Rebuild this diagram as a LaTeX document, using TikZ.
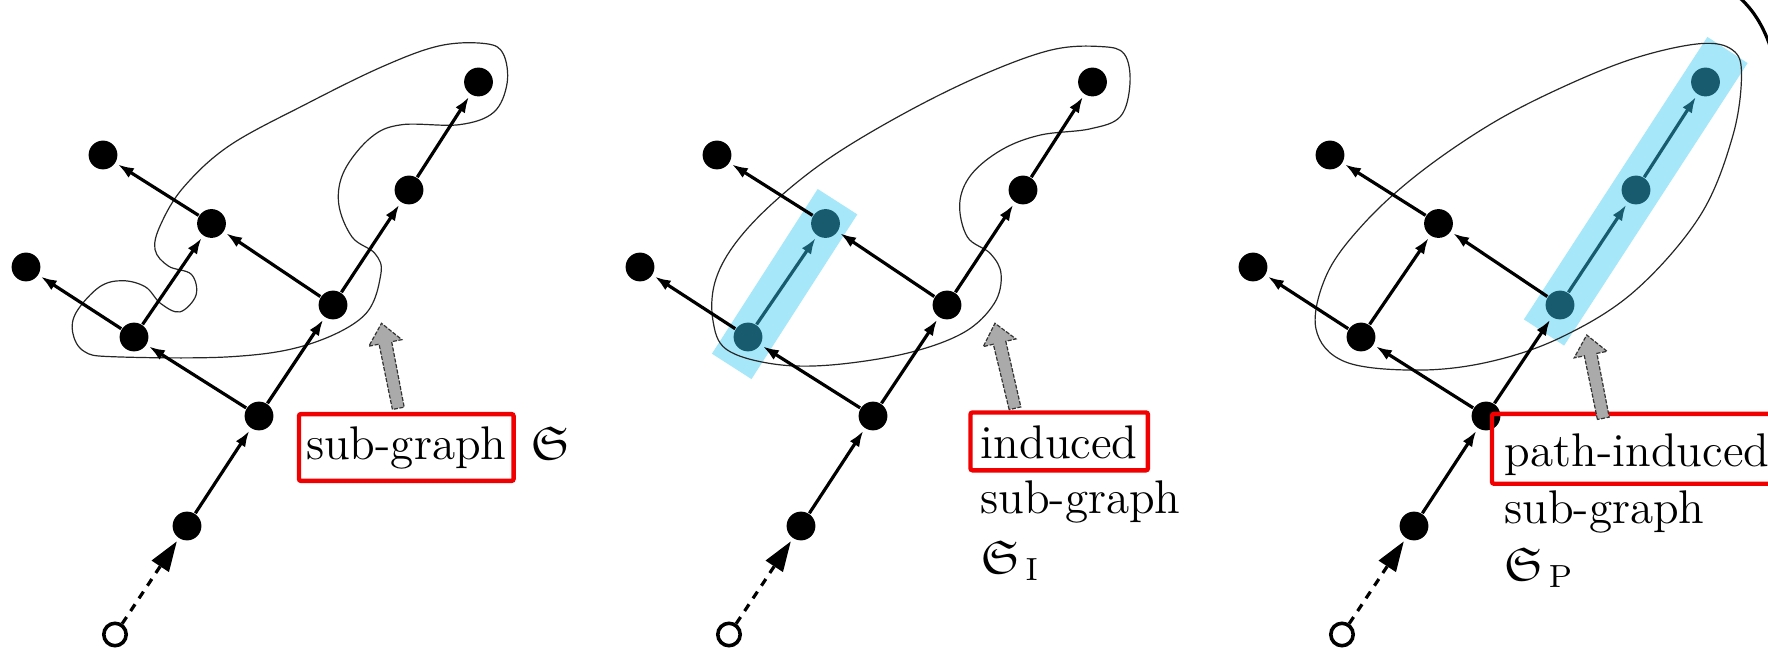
\documentclass[tikz,border=0pt]{standalone}
\usepackage{amssymb}
\usetikzlibrary{arrows.meta,calc}
\definecolor{hlcyan}{RGB}{166,231,250}
\definecolor{hlteal}{RGB}{24,90,110}
\definecolor{boxred}{RGB}{240,0,0}
\definecolor{pointergray}{RGB}{170,170,170}
\newcommand\drawpointer[2]{%
  \coordinate (#1-n) at ($(#2)!5pt!(#1)$);
  \path[pointer] ($(#1)!1.5pt!90:(#2)$) -- ($(#1-n)!1.6pt!90:(#2)$) -- ($(#1-n)!4.2pt!90:(#2)$) -- (#2)
    -- ($(#1-n)!4.2pt!-90:(#2)$) -- ($(#1-n)!1.6pt!-90:(#2)$) -- ($(#1)!1.5pt!-90:(#2)$) -- cycle;}
\begin{document}
\begin{tikzpicture}[x=0.25pt,y=-0.25pt,font=\fontsize{11.8}{14.2}\selectfont,
  vtx/.style={circle,fill=black,inner sep=0pt,minimum size=7.2pt},
  hvtx/.style={vtx,fill=hlteal},
  src/.style={circle,draw=black,fill=white,line width=0.9pt,inner sep=0pt,minimum size=5.6pt},
  edge/.style={line width=0.8pt,-{Latex[length=4pt,width=2.8pt]},shorten >=0.6pt},
  hedge/.style={edge,draw=hlteal,fill=hlteal},
  dashedge/.style={line width=0.8pt,dash pattern=on 2pt off 1.8pt,-{Triangle[length=7.5pt,width=5pt]},shorten >=0.8pt},
  blob/.style={line width=0.3pt,draw=black!85},
  lbl/.style={draw=boxred,line width=1.1pt,anchor=base west,outer sep=0pt,rounded corners=0.5pt},
  txt/.style={anchor=base west,inner sep=0pt},
  hlrect/.style={fill=hlcyan},
  pointer/.style={fill=pointergray,draw=black!80,line width=0.3pt,dash pattern=on 1pt off 0.4pt}]
\useasboundingbox (0,0) rectangle (1768,652);
\clip (0,0) rectangle (1768,652);

% highlight bars
\fill[hlrect] (711.9,353.7) -- (751.5,379.1) -- (857.3,214.4) -- (817.7,189) -- cycle;
\fill[hlrect] (1523.9,319.4) -- (1564.1,345.6) -- (1747.6,63.1) -- (1707.4,36.9) -- cycle;

% blobs
\draw[blob] plot[smooth cycle,tension=0.6] coordinates {
 (72.7,332.6) (84.2,351.4) (114.8,356.8) (229.6,356.8) (306.2,345.1) (363.6,316) (380.8,274.4)
 (375,253.6) (352.1,237) (338.7,203.7) (344.4,170.5) (371.2,137.2) (401.8,124.7) (459.2,124.7)
 (493.7,112.3) (507.1,83.2) (503.3,54) (486,43.7) (440,45.7) (382.7,66.5) (306.2,104) (229.6,145.5)
 (183.7,187.1) (160.7,224.5) (155,249.5) (168.4,266.1) (191.4,274.4) (196,295.2) (179.9,311.9)
 (160.7,303.5) (145.4,286.9) (122.5,280.7) (99.5,286.9) (76.5,311.9)};
\draw[blob] plot[smooth cycle,tension=0.6] coordinates {
 (712.9,320.2) (726.3,349.3) (772.2,363.8) (829.6,365.1) (906.2,353.4) (963.6,332.6) (994.2,303.5)
 (1001.1,274.4) (990.4,253.6) (967.4,237) (959.7,203.7) (971.2,174.6) (1001.8,149.7) (1040.1,135.1)
 (1089.9,128.9) (1120.5,116.4) (1130,83.2) (1124.3,54.1) (1101.3,46.6) (1051.6,49.9) (982.7,74.8)
 (906.2,112.3) (829.6,158) (772.2,203.7) (733.9,245.3) (714.8,282.7)};
\draw[blob] plot[smooth cycle,tension=0.6] coordinates {
 (1315.9,328.5) (1344.9,361.7) (1417.3,370.1) (1489.8,361.7) (1562.2,336.8) (1634.6,291.1)
 (1699.8,216.2) (1732.4,137.2) (1741.5,74.8) (1732.4,49.9) (1699.8,43.7) (1634.6,58.2) (1562.2,87.3)
 (1489.8,124.7) (1417.3,174.6) (1363,224.5) (1326.8,274.4)};

% panel 1
\node[src] (a0) at (115,634.5) {};
\node[vtx] (a1) at (187,526) {};
\node[vtx] (a2) at (259,416) {};
\node[vtx] (a3) at (134,337) {};
\node[vtx] (a4) at (26,267) {};
\node[vtx] (a5) at (211.5,223.5) {};
\node[vtx] (a6) at (103,155) {};
\node[vtx] (a7) at (333,305) {};
\node[vtx] (a8) at (409,190) {};
\node[vtx] (a9) at (478.5,82) {};
\draw[dashedge] (a0) -- (a1);
\draw[edge] (a1) -- (a2);
\draw[edge] (a2) -- (a3);
\draw[edge] (a2) -- (a7);
\draw[edge] (a3) -- (a4);
\draw[edge] (a3) -- (a5);
\draw[edge] (a7) -- (a5);
\draw[edge] (a5) -- (a6);
\draw[edge] (a7) -- (a8);
\draw[edge] (a8) -- (a9);

% panel 2
\begin{scope}[shift={(614,0)}]
\node[src] (b0) at (115,634.5) {};
\node[vtx] (b1) at (187,526) {};
\node[vtx] (b2) at (259,416) {};
\node[hvtx] (b3) at (134,337) {};
\node[vtx] (b4) at (26,267) {};
\node[hvtx] (b5) at (211.5,223.5) {};
\node[vtx] (b6) at (103,155) {};
\node[vtx] (b7) at (333,305) {};
\node[vtx] (b8) at (409,190) {};
\node[vtx] (b9) at (478.5,82) {};
\end{scope}
\draw[dashedge] (b0) -- (b1);
\draw[edge] (b1) -- (b2);
\draw[edge] (b2) -- (b3);
\draw[edge] (b2) -- (b7);
\draw[edge] (b3) -- (b4);
\draw[hedge] (b3) -- (b5);
\draw[edge] (b7) -- (b5);
\draw[edge] (b5) -- (b6);
\draw[edge] (b7) -- (b8);
\draw[edge] (b8) -- (b9);

% panel 3
\begin{scope}[shift={(1227,0)}]
\node[src] (c0) at (115,634.5) {};
\node[vtx] (c1) at (187,526) {};
\node[vtx] (c2) at (259,416) {};
\node[vtx] (c3) at (134,337) {};
\node[vtx] (c4) at (26,267) {};
\node[vtx] (c5) at (211.5,223.5) {};
\node[vtx] (c6) at (103,155) {};
\node[hvtx] (c7) at (333,305) {};
\node[hvtx] (c8) at (409,190) {};
\node[hvtx] (c9) at (478.5,82) {};
\end{scope}
\draw[dashedge] (c0) -- (c1);
\draw[edge] (c1) -- (c2);
\draw[edge] (c2) -- (c3);
\draw[edge] (c2) -- (c7);
\draw[edge] (c3) -- (c4);
\draw[edge] (c3) -- (c5);
\draw[edge] (c7) -- (c5);
\draw[edge] (c5) -- (c6);
\draw[hedge] (c7) -- (c8);
\draw[hedge] (c8) -- (c9);

% labels
\node[lbl,text height=8.2pt,text depth=2.3pt,inner xsep=1.75pt,inner ysep=3.1pt] (la) at (299,459.3) {sub-graph};
\node[txt] (sa) at (530,459.3) {$\mathfrak{S}$};
\node[lbl,text height=8.45pt,text depth=0pt,inner xsep=2.6pt,inner ysep=3pt] (lb) at (970.5,458.3) {induced};
\node[txt] (lb2) at (979.3,513.3) {sub-graph};
\node[txt] (lb3) at (980,573.3) {$\mathfrak{S}_{\,\mathrm{I}}$};
\node[lbl,text height=11.2pt,text depth=2.25pt,inner xsep=3.2pt,inner ysep=2pt] (lc) at (1492,466.7) {path-induced};
\node[txt] (lc2) at (1503.3,523.3) {sub-graph};
\node[txt] (lc3) at (1503.3,580) {$\mathfrak{S}_{\,\mathrm{P}}$};

% grey pointers
\coordinate (pa) at (398.3,408.3); \coordinate (pah) at (381.5,323.3);
\coordinate (pb) at (1015,408.3); \coordinate (pbh) at (995,323.3);
\coordinate (pc) at (1603.3,418.3); \coordinate (pch) at (1586.7,335);
\drawpointer{pa}{pah}
\drawpointer{pb}{pbh}
\drawpointer{pc}{pch}

% clipped arc at top right corner
\coordinate (arcs) at (1735,-6);
\coordinate (arce) at (1772,52);
\draw[line width=0.8pt] (arcs) .. controls (1752,7) and (1764,26) .. (arce);
\end{tikzpicture}
\end{document}
